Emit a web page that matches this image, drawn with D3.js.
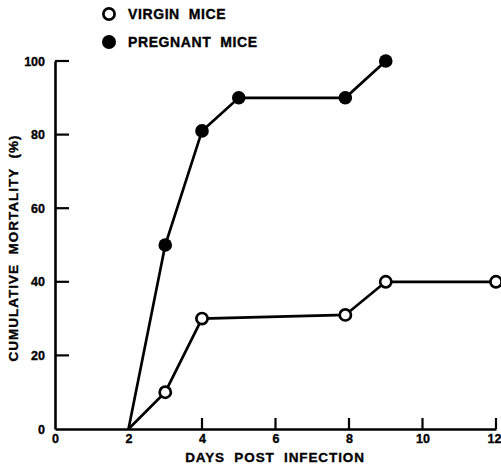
<!DOCTYPE html>
<html>
<head>
<meta charset="utf-8">
<script src="https://cdn.jsdelivr.net/npm/d3@7"></script>
<style>
  html, body { margin: 0; padding: 0; background: #fff; }
  svg { display: block; }
  text { font-family: "Liberation Sans", Arial, sans-serif; font-weight: bold; fill: #000; stroke: #000; stroke-width: 0.35px; }
</style>
</head>
<body>
<svg id="chart" width="501" height="466"></svg>
<script>
// Cumulative mortality (%) by day post infection
const virginDays = [2, 3, 4, 7.9, 9, 12];
const virginMortality = [0, 10, 30, 31, 40, 40];
const pregnantDays = [2, 3, 4, 5, 7.9, 9];
const pregnantMortality = [0, 50, 81, 90, 90, 100];
const xTicks = [0, 2, 4, 6, 8, 10, 12];
const yTicks = [0, 20, 40, 60, 80, 100];
const seriesNames = ["VIRGIN  MICE", "PREGNANT  MICE"];

const svg = d3.select("#chart");
const margin = { left: 55, top: 61 };

const x = d3.scaleLinear().domain([0, 12]).range([margin.left, 496]);
const y = d3.scaleLinear().domain([0, 100]).range([429, margin.top]);

const ink = "#000";
const fontFamily = "Liberation Sans, Arial, sans-serif";

// x axis: ticks pointing up into the plot
const xAxis = svg.append("g").attr("transform", `translate(0,${y(0)})`)
  .call(d3.axisBottom(x).tickValues(xTicks).tickSize(0).tickPadding(5));
xAxis.select(".domain").attr("stroke", ink).attr("stroke-width", 2.6);
xAxis.selectAll("text").attr("font-size", 12.5).attr("font-weight", "bold")
  .attr("font-family", fontFamily).attr("dy", "0.7em");
// keep the last label inside the right edge
xAxis.selectAll(".tick").filter(d => d === 12).select("text")
  .attr("text-anchor", "end").attr("x", 5);
svg.append("g").selectAll("line")
  .data(xTicks.filter(d => d >= 4))
  .join("line")
  .attr("x1", d => x(d)).attr("x2", d => x(d))
  .attr("y1", y(0)).attr("y2", y(0) - 11)
  .attr("stroke", ink).attr("stroke-width", 2.2);

// y axis: ticks pointing right into the plot
const yAxis = svg.append("g").attr("transform", `translate(${x(0)},0)`)
  .call(d3.axisLeft(y).tickValues(yTicks).tickSize(0).tickPadding(10));
yAxis.select(".domain").attr("stroke", ink).attr("stroke-width", 2.6);
yAxis.selectAll("text").attr("font-size", 12.5).attr("font-weight", "bold")
  .attr("font-family", fontFamily);
svg.append("g").selectAll("line")
  .data(yTicks.filter(d => d > 0))
  .join("line")
  .attr("x1", x(0)).attr("x2", x(0) + 14)
  .attr("y1", d => y(d)).attr("y2", d => y(d))
  .attr("stroke", ink).attr("stroke-width", 2.2);

// axis titles
svg.append("text")
  .attr("x", 275).attr("y", 462)
  .attr("text-anchor", "middle")
  .attr("font-size", 13.5)
  .attr("letter-spacing", 0.9)
  .style("white-space", "pre")
  .text("DAYS  POST  INFECTION");

svg.append("text")
  .attr("transform", `translate(18,248) rotate(-90)`)
  .attr("text-anchor", "middle")
  .attr("font-size", 13.5)
  .attr("letter-spacing", 1)
  .style("white-space", "pre")
  .text("CUMULATIVE  MORTALITY  (%)");

// series lines and markers
const line = d3.line().x(d => x(d[0])).y(d => y(d[1]));
const virgin = virginDays.map((d, i) => [d, virginMortality[i]]);
const pregnant = pregnantDays.map((d, i) => [d, pregnantMortality[i]]);

svg.append("path").datum(pregnant).attr("d", line)
  .attr("fill", "none").attr("stroke", ink).attr("stroke-width", 2.7);
svg.append("path").datum(virgin).attr("d", line)
  .attr("fill", "none").attr("stroke", ink).attr("stroke-width", 2.7);

svg.append("g").selectAll("circle")
  .data(pregnant.slice(1)).join("circle")
  .attr("cx", d => x(d[0])).attr("cy", d => y(d[1])).attr("r", 6.8)
  .attr("fill", ink);
svg.append("g").selectAll("circle")
  .data(virgin.slice(1)).join("circle")
  .attr("cx", d => x(d[0])).attr("cy", d => y(d[1])).attr("r", 5.6)
  .attr("fill", "#fff").attr("stroke", ink).attr("stroke-width", 2.7);

// legend
const legend = svg.append("g");
legend.append("circle").attr("cx", 109).attr("cy", 14).attr("r", 5.6)
  .attr("fill", "#fff").attr("stroke", ink).attr("stroke-width", 2.7);
legend.append("circle").attr("cx", 109).attr("cy", 42).attr("r", 7)
  .attr("fill", ink);
legend.selectAll("text.lab").data(seriesNames).join("text")
  .attr("class", "lab")
  .attr("x", 128).attr("y", (d, i) => 19 + i * 28)
  .attr("font-size", 14)
  .attr("letter-spacing", 0.6)
  .style("white-space", "pre")
  .text(d => d);
</script>
</body>
</html>
